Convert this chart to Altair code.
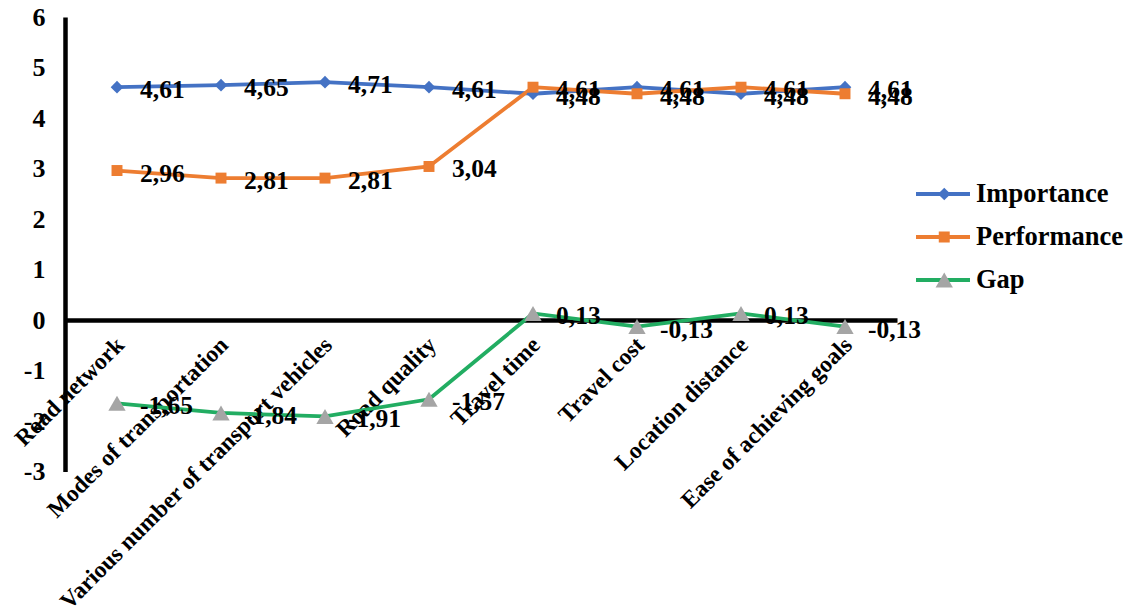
import altair as alt
import pandas as pd

# Survey attributes along the category axis
categories = [
    "Road network",
    "Modes of transportation",
    "Various number of transport vehicles",
    "Road quality",
    "Travel time",
    "Travel cost",
    "Location distance",
    "Ease of achieving goals",
]

series_names = ["Importance", "Performance", "Gap"]
# separate keys for the marker legend so it stays its own legend
marker_keys = ["m-Importance", "m-Performance", "m-Gap"]

importance = [4.61, 4.65, 4.71, 4.61, 4.48, 4.61, 4.48, 4.61]
performance = [2.96, 2.81, 2.81, 3.04, 4.61, 4.48, 4.61, 4.48]
gap = [-1.65, -1.84, -1.91, -1.57, 0.13, -0.13, 0.13, -0.13]

y_ticks = [-3, -2, -1, 0, 1, 2, 3, 4, 5, 6]

line_colors = ["#4472C4", "#ED7D31", "#22AD62"]
marker_colors = ["#4472C4", "#ED7D31", "#A5A5A5"]
marker_shapes = ["diamond", "square", "triangle-up"]
marker_sizes = [160, 120, 300]

FONT = "Liberation Serif"

rows = []
for name, key, values in zip(series_names, marker_keys, [importance, performance, gap]):
    for cat, v in zip(categories, values):
        rows.append({
            "Category": cat,
            "Series": name,
            "Marker": key,
            "Value": v,
            "Label": f"{v:.2f}".replace(".", ","),
        })
df = pd.DataFrame(rows)

PLOT_W, PLOT_H = 832, 454.5
Y_MIN, Y_MAX = -3, 6
zero_offset = -PLOT_H * (0 - Y_MIN) / (Y_MAX - Y_MIN)

x_enc = alt.X(
    "Category:N",
    sort=categories,
    scale=alt.Scale(type="point", padding=0.5),
    axis=alt.Axis(
        title=None,
        orient="bottom",
        offset=zero_offset,
        domainColor="black",
        domainWidth=4.5,
        ticks=False,
        tickSize=0,
        labelAngle=-45,
        labelAlign="right",
        labelBaseline="middle",
        labelPadding=21,
        labelOffset=3,
        labelFont=FONT,
        labelFontWeight="bold",
        labelFontSize=23.5,
        labelColor="black",
        labelOverlap=False,
        labelBound=False,
        labelLimit=1000,
    ),
)

y_enc = alt.Y(
    "Value:Q",
    scale=alt.Scale(domain=[Y_MIN, Y_MAX], nice=False, zero=False),
    axis=alt.Axis(
        title=None,
        values=y_ticks,
        grid=False,
        ticks=False,
        tickSize=0,
        domainColor="black",
        domainWidth=4.5,
        labelPadding=20,
        labelFont=FONT,
        labelFontWeight="bold",
        labelFontSize=26,
        labelColor="black",
        labelExpr="datum.value < 0 ? '-' + abs(datum.value) : '' + datum.value",
    ),
)

legend_common = dict(
    title=None,
    orient="none",
    legendY=165,
    clipHeight=24,
    rowPadding=16,
    padding=0,
    labelFont=FONT,
    labelFontWeight="bold",
    labelFontSize=26.5,
    labelColor="black",
)

lines = alt.Chart(df).mark_line(strokeWidth=3.8).encode(
    x=x_enc,
    y=y_enc,
    stroke=alt.Stroke(
        "Series:N",
        scale=alt.Scale(domain=series_names, range=line_colors),
        legend=alt.Legend(
            legendX=849,
            symbolType="stroke",
            symbolSize=2916,
            symbolStrokeWidth=3.8,
            labelOffset=4,
            zindex=1,
            **legend_common,
        ),
    ),
    detail="Series:N",
)

points = alt.Chart(df).mark_point(filled=True, opacity=1, strokeWidth=0).encode(
    x=x_enc,
    y=y_enc,
    fill=alt.Fill(
        "Marker:N",
        scale=alt.Scale(domain=marker_keys, range=marker_colors),
        legend=alt.Legend(
            legendX=866,
            symbolStrokeWidth=0,
            symbolOpacity=1,
            labelExpr="''",
            zindex=2,
            **legend_common,
        ),
    ),
    shape=alt.Shape("Marker:N", scale=alt.Scale(domain=marker_keys, range=marker_shapes)),
    size=alt.Size(
        "Marker:N",
        scale=alt.Scale(type="ordinal", domain=marker_keys, range=marker_sizes),
    ),
)

labels = alt.Chart(df).mark_text(
    align="left",
    baseline="middle",
    dx=23,
    dy=3,
    font=FONT,
    fontWeight="bold",
    fontSize=25.5,
    color="black",
).encode(
    x=x_enc,
    y=y_enc,
    text="Label:N",
)

chart = (
    alt.layer(lines, points, labels)
    .properties(
        width=PLOT_W,
        height=PLOT_H,
        autosize=alt.AutoSizeParams(type="none"),
        padding={"left": 65, "top": 17, "right": 1132 - 65 - PLOT_W, "bottom": 616 - 17 - PLOT_H},
        background="white",
    )
    .configure_view(stroke=None)
)

chart.save("out.html", embed_options={"renderer": "svg", "actions": False})
